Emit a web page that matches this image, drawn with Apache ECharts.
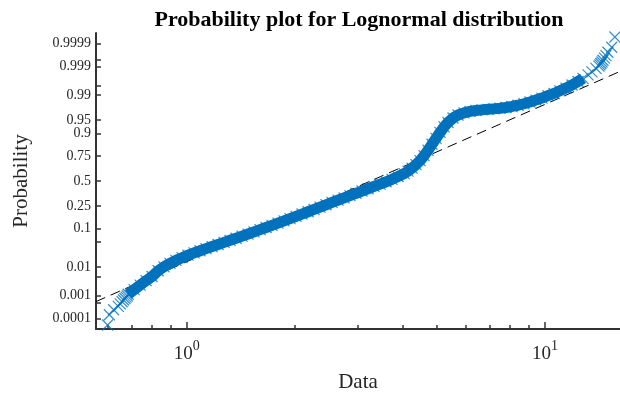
<!DOCTYPE html>
<html><head><meta charset="utf-8">
<script src="https://cdn.jsdelivr.net/npm/echarts@6/dist/echarts.min.js"></script>
<style>html,body{margin:0;padding:0;background:#fff}#c{width:620px;height:398px}</style>
</head><body><div id="c"></div>
<script>
const titleText = 'Probability plot for Lognormal distribution';
const xName = 'Data';
const yName = 'Probability';
const probLabels = ['0.0001','0.001','0.01','0.1','0.25','0.5','0.75','0.9','0.95','0.99','0.999','0.9999'];
const probTicks = [0.0001,0.0005,0.001,0.005,0.01,0.05,0.1,0.25,0.5,0.75,0.9,0.95,0.99,0.995,0.999,0.9995,0.9999];
const xMajorTicks = [1,10];
const xMinorTicks = [0.6,0.7,0.8,0.9,2,3,4,5,6,7,8,9];
const xMin = 0.558, xMax = 16.2;

// sample values (Data) and their plotting probabilities
const dataX = [0.601,0.608,0.625,0.644,0.652,0.660,0.666,0.672,0.677,0.682,
 0.686,0.713,0.741,0.770,0.800,0.832,0.864,0.898,0.933,0.970,
 1.008,1.048,1.089,1.132,1.177,1.223,1.271,1.321,1.373,1.427,
 1.483,1.541,1.602,1.665,1.730,1.798,1.869,1.942,2.019,2.098,
 2.181,2.267,2.356,2.448,2.545,2.645,2.749,2.856,2.969,3.085,
 3.207,3.333,3.464,3.600,3.742,3.889,4.043,4.148,4.256,4.365,
 4.479,4.597,4.717,4.838,4.965,5.095,5.228,5.363,5.538,5.719,
 5.942,6.177,6.418,6.672,6.934,7.206,7.487,7.784,8.090,8.408,
 8.738,9.081,9.439,9.811,10.20,10.60,11.01,11.45,11.90,12.37,
 12.77,13.19,13.53,13.88,14.15,14.24,14.33,14.43,14.52,14.66,
 14.80,14.99,15.36,15.68];
const dataP = [0.00005,0.00015,0.00025,0.00035,0.00045,0.00055,0.00065,0.00075,0.00085,0.00095,
 0.0011,0.00166,0.00244,0.00353,0.00491,0.00763,0.0102,0.0130,0.0160,0.0191,
 0.0225,0.0260,0.0297,0.0338,0.0382,0.0431,0.0485,0.0545,0.0609,0.0680,
 0.0758,0.0846,0.0941,0.1044,0.1154,0.1273,0.1405,0.1548,0.1700,0.1859,
 0.2030,0.2209,0.2395,0.2601,0.2813,0.3025,0.3242,0.3468,0.3699,0.3932,
 0.4172,0.4415,0.4657,0.4915,0.5183,0.5480,0.5797,0.6057,0.6363,0.6709,
 0.7088,0.7530,0.7970,0.8394,0.8755,0.9055,0.9280,0.9432,0.9556,0.9627,
 0.9673,0.9701,0.9717,0.9727,0.9736,0.9744,0.9753,0.9765,0.9780,0.9797,
 0.9816,0.9836,0.9856,0.9875,0.9894,0.9910,0.9926,0.9940,0.99527,0.99642,
 0.99724,0.99794,0.99841,0.99883,0.99905,0.99915,0.99925,0.99935,0.99945,0.99955,
 0.99965,0.99975,0.99985,0.99995];
// fitted lognormal reference line (end points)
const fitX = [0.558, 16.2];
const fitP = [0.00056, 0.99847];

function probit(p){
 const a=[-3.969683028665376e+01,2.209460984245205e+02,-2.759285104469687e+02,1.383577518672690e+02,-3.066479806614716e+01,2.506628277459239e+00];
 const b=[-5.447609879822406e+01,1.615858368580409e+02,-1.556989798598866e+02,6.680131188771972e+01,-1.328068155288572e+01];
 const c=[-7.784894002430293e-03,-3.223964580411365e-01,-2.400758277161838e+00,-2.549732539343734e+00,4.374664141464968e+00,2.938163982698783e+00];
 const d=[7.784695709041462e-03,3.224671290700398e-01,2.445134137142996e+00,3.754408661907416e+00];
 const pl=0.02425, ph=1-pl; let q,r;
 if(p<pl){q=Math.sqrt(-2*Math.log(p));return (((((c[0]*q+c[1])*q+c[2])*q+c[3])*q+c[4])*q+c[5])/((((d[0]*q+d[1])*q+d[2])*q+d[3])*q+1);}
 if(p>ph){q=Math.sqrt(-2*Math.log(1-p));return -(((((c[0]*q+c[1])*q+c[2])*q+c[3])*q+c[4])*q+c[5])/((((d[0]*q+d[1])*q+d[2])*q+d[3])*q+1);}
 q=p-0.5;r=q*q;return (((((a[0]*r+a[1])*r+a[2])*r+a[3])*r+a[4])*r+a[5])*q/(((((b[0]*r+b[1])*r+b[2])*r+b[3])*r+b[4])*r+1);
}

const pts = dataX.map((x,i)=>[x, probit(dataP[i])]);
const band = dataX.map((x,i)=>[x, probit(dataP[i])]).filter((d,i)=>dataP[i]>=0.0011 && dataP[i]<=0.9979);
const fitPts = fitX.map((x,i)=>[x, probit(fitP[i])]);
const labelZ = probLabels.map(s=>probit(parseFloat(s)));
const tickZ = probTicks.map(probit);
const serif = 'Liberation Serif';
const axisColor = '#333';

const chart = echarts.init(document.getElementById('c'), null, {renderer:'canvas'});
chart.setOption({
 animation:false,
 backgroundColor:'#fff',
 title:{text:titleText,left:354,textAlign:'center',top:4,
   textStyle:{fontFamily:serif,fontWeight:'bold',fontSize:22,color:'#000'}},
 grid:{left:96,right:0,top:33,bottom:67},
 xAxis:[{
   type:'log',logBase:10,min:xMin,max:xMax,
   name:xName,nameLocation:'middle',nameGap:43,
   nameTextStyle:{fontFamily:serif,fontSize:21,color:'#262626'},
   axisLine:{show:true,onZero:false,lineStyle:{color:axisColor,width:2}},
   axisTick:{show:true,inside:true,length:7,customValues:xMajorTicks,lineStyle:{color:axisColor,width:1.5}},
   axisLabel:{margin:10,customValues:xMajorTicks,
     formatter:(v)=>{const e=Math.log10(v);const r=Math.round(e);return Math.abs(e-r)<1e-6?('{b|10}{s|'+r+'}'):'';},
     rich:{b:{fontFamily:serif,fontSize:19,color:'#262626'},
           s:{fontFamily:serif,fontSize:14,color:'#262626',padding:[0,0,17,0]}}},
   splitLine:{show:false},minorTick:{show:false}
 },{
   type:'log',logBase:10,min:xMin,max:xMax,position:'bottom',
   axisLine:{show:false,onZero:false},axisLabel:{show:false},splitLine:{show:false},
   axisTick:{show:true,inside:true,length:4,customValues:xMinorTicks,lineStyle:{color:axisColor,width:1.5}}
 }],
 yAxis:{
   type:'value',min:-4,max:4,
   name:yName,nameLocation:'middle',nameGap:64,nameRotate:90,
   nameTextStyle:{fontFamily:serif,fontSize:21,color:'#262626'},
   axisLine:{show:true,onZero:false,lineStyle:{color:axisColor,width:2}},
   axisTick:{show:true,inside:true,length:5,customValues:tickZ,lineStyle:{color:axisColor,width:1.5}},
   axisLabel:{customValues:labelZ,margin:5,fontFamily:serif,fontSize:14,color:'#262626',
     formatter:(v)=>{for(let i=0;i<labelZ.length;i++){if(Math.abs(labelZ[i]-v)<1e-6)return probLabels[i];}return '';}},
   splitLine:{show:false}
 },
 series:[
   {type:'line',data:fitPts,showSymbol:false,silent:true,z:1,
    lineStyle:{color:'#000',width:1,type:[10,6]}},
   {type:'line',data:band,showSymbol:false,silent:true,z:2,
    lineStyle:{color:'#0072BD',width:11,cap:'butt',join:'round'}},
   {type:'scatter',data:pts,symbol:'path://M0,0L10,10M10,0L0,10',symbolSize:11,z:3,
    itemStyle:{color:'rgba(0,0,0,0)',borderColor:'#0072BD',borderWidth:1.2}}
 ]
});
</script></body></html>
